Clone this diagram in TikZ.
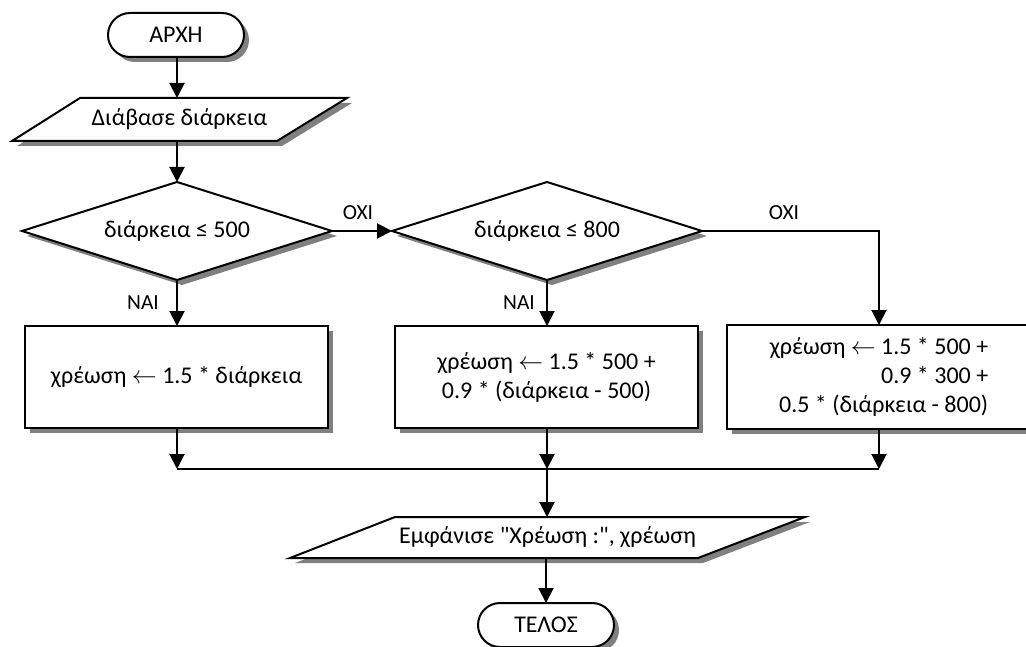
\documentclass[tikz,border=0pt]{standalone}
\usepackage{fontspec}
\setmainfont{Carlito}[Ligatures=TeXOff]
\usetikzlibrary{shapes.geometric,shapes.misc,shadows,arrows.meta,calc}
\begin{document}
\begin{tikzpicture}[x=1pt,y=-1pt,
  font=\fontsize{24}{29}\selectfont,
  shade/.style={drop shadow={shadow xshift=5pt,shadow yshift=-5pt,fill=black!50,opacity=1}},
  outline/.style={draw=black,line width=2pt,fill=white,shade},
  base/.style={outline,inner sep=0pt,outer sep=0pt},
  term/.style={base,rounded rectangle,minimum width=136pt,minimum height=44pt},
  iotext/.style={rectangle,inner sep=0pt,outer sep=0pt},
  decision/.style={base,diamond,aspect=3.16,minimum width=310pt,minimum height=98pt},
  proc/.style={base,rectangle},
  flow/.style={line width=2pt,-{Triangle[length=15pt,width=15pt]}},
  joinline/.style={line width=1.5pt},
  lbl/.style={inner sep=0pt,font=\fontsize{21.5}{24}\selectfont}
]
\useasboundingbox (0,0) rectangle (1026,647);

% flowchart blocks
\node[term] (start) at (176,35) {ΑΡΧΗ};

% input block: slanted outline, then its text node
\path[outline] (80,98) -- (347,98) -- (277,141) -- (12,141) -- cycle;
\node[iotext,minimum width=200pt,minimum height=43pt] (read) at (179.5,119.5) {Διάβασε διάρκεια};

\node[decision] (d1) at (177,231) {διάρκεια ≤ 500};
\node[decision] (d2) at (547,231) {διάρκεια ≤ 800};
\node[proc,minimum width=303pt,minimum height=102pt] (b1) at (176.5,377)
  {χρέωση $\leftarrow$ 1.5 * διάρκεια};
\node[proc,minimum width=303pt,minimum height=102pt,align=center] (b2) at (546.5,377)
  {χρέωση $\leftarrow$ 1.5 * 500 +\\0.9 * (διάρκεια - 500)};
\node[proc,minimum width=304pt,minimum height=104pt,align=right] (b3) at (879,377)
  {χρέωση $\leftarrow$ 1.5 * 500 +\\0.9 * 300 +\\0.5 * (διάρκεια - 800)};

% output block: slanted outline, then its text node
\path[outline] (395,517) -- (805,517) -- (698,558) -- (290,558) -- cycle;
\node[iotext,minimum width=300pt,minimum height=41pt] (out) at (547.5,537.5)
  {Εμφάνισε "Χρέωση :", χρέωση};

\node[term] (end) at (546,625) {ΤΕΛΟΣ};

% junction points on the collecting line
\coordinate (m1) at (177,469);
\coordinate (m2) at (547,469);
\coordinate (m3) at (879,469);

% connectors
\draw[flow] (start.south -| d1.north) -- (d1.north |- read.north);
\draw[flow] (d1.north |- read.south) -- (d1.north);
\draw[flow] (d1.east) -- (d2.west);
\draw[flow] (d2.east) -| (b3.north);
\draw[flow] (d1.south) -- (d1.south |- b1.north);
\draw[flow] (d2.south) -- (d2.south |- b2.north);
\draw[flow] (b1.south -| m1) -- (m1);
\draw[flow] (b2.south -| m2) -- (m2);
\draw[flow] (b3.south -| m3) -- (m3);
\draw[joinline] (m1) -- (m3);
\draw[flow] (m2) -- (m2 |- out.north);
\draw[flow] (out.south -| end.north) -- (end.north);

% branch labels
\node[lbl] (no1) at (358,212.5) {ΟΧΙ};
\node[lbl] (no2) at (784,212.5) {ΟΧΙ};
\node[lbl] (yes1) at (143,303) {ΝΑΙ};
\node[lbl] (yes2) at (519,303) {ΝΑΙ};
\end{tikzpicture}
\end{document}
